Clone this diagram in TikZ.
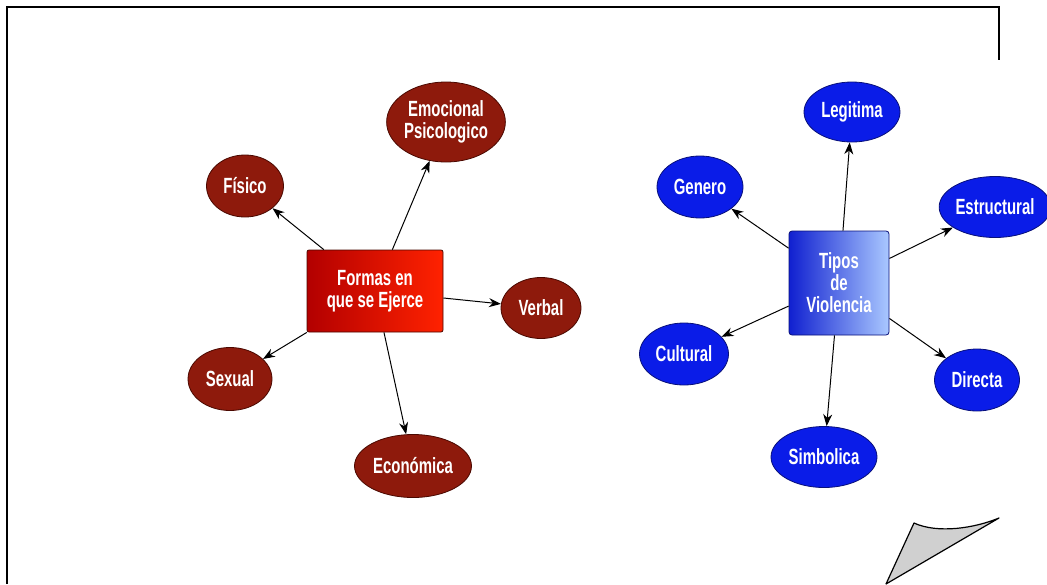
\documentclass[tikz,border=0pt]{standalone}
\usepackage{fontspec}
\newfontfamily\mapfont[FakeStretch=0.68]{Liberation Sans}
\usepackage{xcolor}
\usetikzlibrary{
  positioning,
  arrows.meta,
  shapes.geometric
}
\definecolor{formared}{HTML}{8E1A0C}
\definecolor{formaedge}{HTML}{4A0800}
\definecolor{tipoblue}{HTML}{0A1CE8}
\definecolor{tipoedge}{HTML}{08107A}
\definecolor{curlgray}{HTML}{D0D0D0}

\tikzset{
  maptext/.style={text=white, font=\mapfont\bfseries\fontsize{22}{22}\selectfont, align=center, inner sep=0pt},
  formabox/.style={maptext, draw=formaedge, line width=0.8pt, rounded corners=2pt,
    left color=red!70!black, middle color=red!55!black, right color={rgb,255:red,255;green,34;blue,0},
    minimum width=136, minimum height=82},
  tipobox/.style={maptext, draw=tipoedge, line width=0.8pt, rounded corners=3pt,
    left color={rgb,255:red,16;green,32;blue,208}, middle color={rgb,255:red,48;green,80;blue,240},
    right color={rgb,255:red,170;green,200;blue,255}, minimum width=100, minimum height=104},
  formaell/.style={maptext, ellipse, fill=formared, draw=formaedge, line width=0.8pt},
  tipoell/.style={maptext, ellipse, fill=tipoblue, draw=tipoedge, line width=0.8pt},
  maparrow/.style={-{Stealth[length=12pt, width=9pt]}, line width=1pt, black}
}

\begin{document}
\begin{tikzpicture}[x=1pt, y=-1pt]
      \useasboundingbox (0,0) rectangle (1047,584);

      % Frame
      \draw[line width=2pt] (7,584) -- (7,7) -- (999,7) -- (999,60);

      % Page curl
      \draw[fill=curlgray, line width=1.2pt, line join=round]
        (914,523) .. controls (938,534) and (975,528) .. (999,518) -- (886,584) -- cycle;

      % Formas en que se Ejerce
      \node[formabox] (formas) at (375,291) {Formas en\\que se Ejerce};
      \node[formaell, minimum width=118, minimum height=80] (emocional) at (446,122) {Emocional\\Psicologico};
      \node[formaell, minimum width=77, minimum height=62] (fisico) at (245,186) {Físico};
      \node[formaell, minimum width=80, minimum height=61] (verbal) at (541,308) {Verbal};
      \node[formaell, minimum width=84, minimum height=63] (sexual) at (230,379) {Sexual};
      \node[formaell, minimum width=117, minimum height=63] (economica) at (413,466) {Económica};

      \foreach \n in {emocional, fisico, verbal, sexual, economica}
        \draw[maparrow] (formas) -- (\n);

      % Tipos de Violencia
      \node[tipobox] (tipos) at (839,283) {Tipos\\de\\Violencia};
      \node[tipoell, minimum width=96, minimum height=60] (legitima) at (852,112) {Legitima};
      \node[tipoell, minimum width=86, minimum height=62] (genero) at (700,187) {Genero};
      \node[tipoell, minimum width=106, minimum height=61] (estructural) at (995,207) {Estructural};
      \node[tipoell, minimum width=89, minimum height=62] (cultural) at (684,354) {Cultural};
      \node[tipoell, minimum width=85, minimum height=62] (directa) at (977,380) {Directa};
      \node[tipoell, minimum width=106, minimum height=61] (simbolica) at (824,457) {Simbolica};

      \foreach \n in {legitima, genero, estructural, cultural, directa, simbolica}
        \draw[maparrow] (tipos) -- (\n);
    \end{tikzpicture}
\end{document}
